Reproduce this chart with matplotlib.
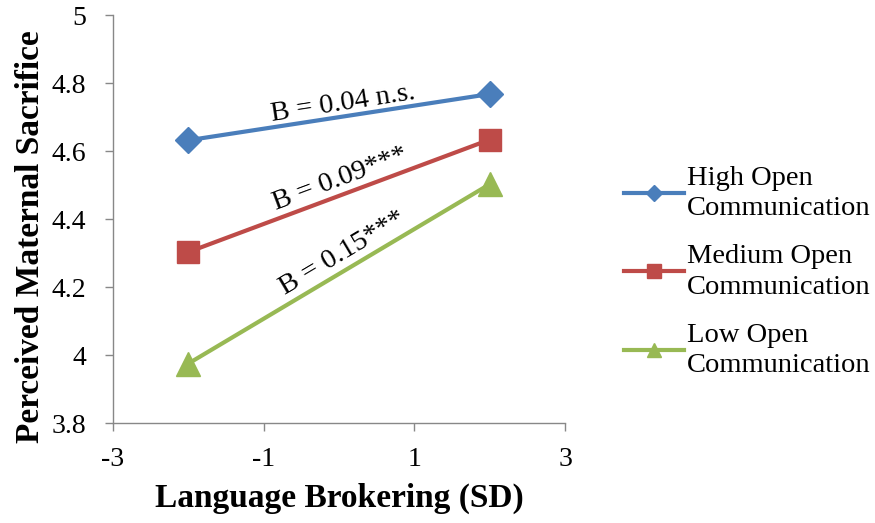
import math
import matplotlib
matplotlib.use("Agg")
import matplotlib.pyplot as plt

# Simple slopes of maternal sacrifice on language brokering
x_levels = [-2, 2]
high_open = [4.632, 4.768]
medium_open = [4.303, 4.634]
low_open = [3.975, 4.503]
series_labels = ["High Open\nCommunication", "Medium Open\nCommunication", "Low Open\nCommunication"]
slope_texts = ["B = 0.04 n.s.", "B = 0.09***", "B = 0.15***"]
x_ticks = [-3, -1, 1, 3]
y_ticks = [3.8, 4.0, 4.2, 4.4, 4.6, 4.8, 5.0]
y_tick_labels = ["3.8", "4", "4.2", "4.4", "4.6", "4.8", "5"]

plt.rcParams["font.family"] = ["Liberation Serif", "DejaVu Serif"]

fig = plt.figure(figsize=(8.75, 5.23), dpi=100)
ax = fig.add_axes([0.129, 0.191, 0.517, 0.780])

colors = ["#4A7EBB", "#BE4B48", "#98B954"]
markers = ["D", "s", "^"]
msizes = [13, 16.5, 17]
handles = []
for vals, col, mk, ms, lab in zip([high_open, medium_open, low_open], colors, markers, msizes, series_labels):
    h, = ax.plot(x_levels, vals, color=col, lw=3, marker=mk, ms=ms, label=lab,
                 markeredgecolor=col, clip_on=False, zorder=3)
    handles.append(h)

ax.set_xlim(-3, 3)
ax.set_ylim(3.8, 5.0)


def angle_of(vals):
    p0 = ax.transData.transform((x_levels[0], vals[0]))
    p1 = ax.transData.transform((x_levels[1], vals[1]))
    return math.degrees(math.atan2(p1[1] - p0[1], p1[0] - p0[0]))


# rotated slope labels placed just above each line
text_pos = [(0.05, 4.740), (0.02, 4.517), (0.05, 4.300)]
for (tx, ty), txt, vals in zip(text_pos, slope_texts, [high_open, medium_open, low_open]):
    ax.text(tx, ty, txt, rotation=angle_of(vals), rotation_mode="anchor",
            ha="center", va="center", fontsize=20.5, color="black")

ax.set_xticks(x_ticks)
ax.set_xticklabels([str(t) for t in x_ticks])
ax.set_yticks(y_ticks)
ax.set_yticklabels(y_tick_labels)
for s in ["top", "right"]:
    ax.spines[s].set_visible(False)
for s in ["left", "bottom"]:
    ax.spines[s].set_color("#888888")
    ax.spines[s].set_linewidth(1)
ax.tick_params(axis="both", colors="#888888", labelcolor="black", labelsize=20,
               length=6, width=1, direction="out")
ax.tick_params(axis="x", pad=11)
ax.tick_params(axis="y", pad=13)

ax.set_xlabel("Language Brokering (SD)", fontsize=24, fontweight="bold", labelpad=8)
ax.set_ylabel("Perceived Maternal Sacrifice", fontsize=24, fontweight="bold")
ax.yaxis.set_label_coords(-0.181, 0.458)
ax.yaxis.label.set_va("center")

leg = fig.legend(handles=handles, loc="center left", bbox_to_anchor=(0.684, 0.48),
                 frameon=False, fontsize=20.5, handlelength=2.1, handletextpad=0.1,
                 labelspacing=0.8, markerscale=0.6)
for t in leg.get_texts():
    t.set_linespacing(1.3)

fig.savefig("out.png", dpi=100)
